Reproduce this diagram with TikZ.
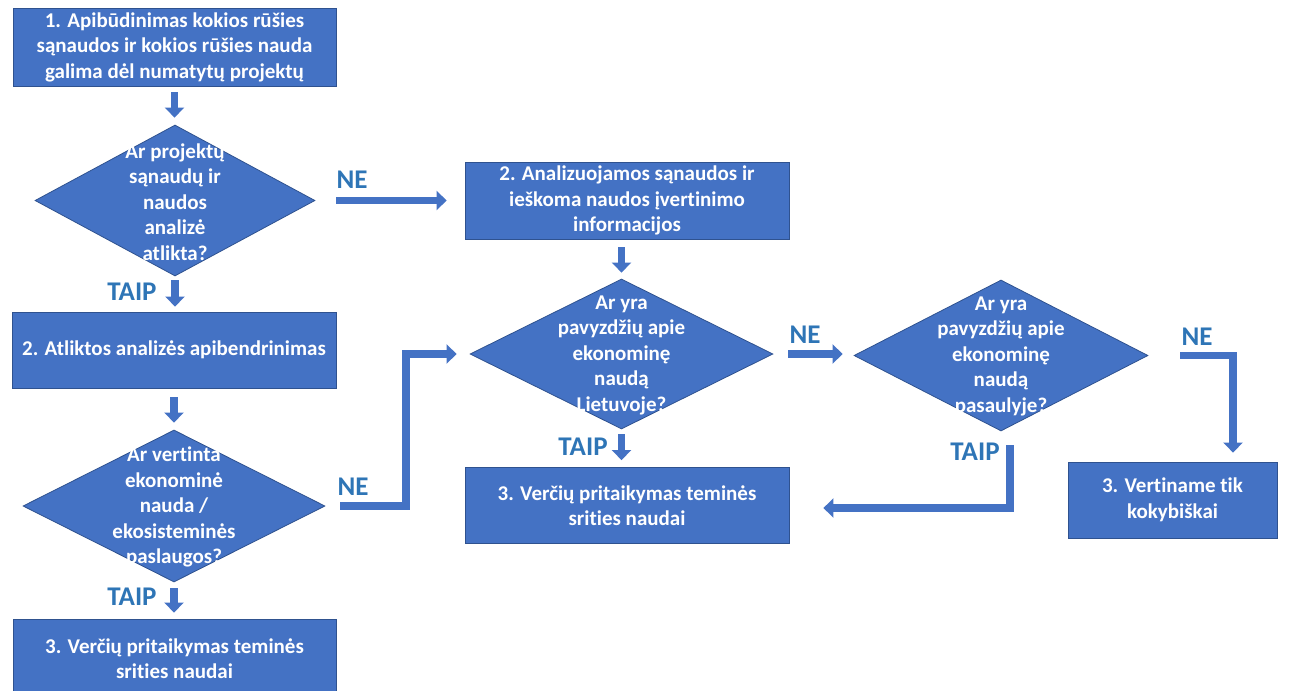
\documentclass[tikz,border=0pt]{standalone}
\usepackage{fontspec}
\setmainfont{Carlito}[Ligatures=NoCommon]
\usetikzlibrary{shapes.geometric,arrows.meta}
\definecolor{boxblue}{HTML}{4472C4}
\definecolor{edgeblue}{HTML}{2F528F}
\definecolor{labelblue}{HTML}{2E75B6}
\tikzset{
  procbox/.style={rectangle,fill=boxblue,draw=edgeblue,line width=0.8pt,inner sep=0pt},
  decision/.style={diamond,fill=boxblue,draw=edgeblue,line width=0.8pt,inner sep=0pt},
  boxtext/.style={text=white,align=center,font=\fontsize{21}{25.5}\selectfont\bfseries},
  answer/.style={text=labelblue,font=\fontsize{27}{30}\selectfont\bfseries},
  blockarrow/.style={draw=boxblue,line width=7.5pt,line join=miter,
    -{Triangle[width=19pt,length=10pt]}}
}
\begin{document}
\begin{tikzpicture}[x=1pt,y=-1pt]
            \useasboundingbox (0,0) rectangle (1297,690);

            \node[procbox,minimum width=323pt,minimum height=78pt] (apib) at (174.5,47){};
            \node[boxtext] (apibt) at (apib){1. Apibūdinimas kokios rūšies\\sąnaudos ir kokios rūšies nauda\\galima dėl numatytų projektų};
            \node[decision,minimum width=280pt,minimum height=151pt] (qdone) at (175,200.5){};
            \node[boxtext] (qdonet) at (175,202){Ar projektų\\sąnaudų ir\\naudos\\analizė\\atlikta?};
            \node[procbox,minimum width=324pt,minimum height=76pt] (summ) at (174,350){};
            \node[boxtext] (summt) at (summ){2. Atliktos analizės apibendrinimas};
            \node[decision,minimum width=302pt,minimum height=152pt] (qvert) at (174,506){};
            \node[boxtext] (qvertt) at (174,507){Ar vertinta\\ekonominė\\nauda /\\ekosisteminės\\paslaugos?};
            \node[procbox,minimum width=323pt,minimum height=79pt] (adapta) at (174.5,658.5){};
            \node[boxtext] (adaptat) at (adapta){3. Verčių pritaikymas teminės\\srities naudai};

            \node[procbox,minimum width=324pt,minimum height=77pt] (analiz) at (627,200.5){};
            \node[boxtext] (analizt) at (analiz){2. Analizuojamos sąnaudos ir\\ieškoma naudos įvertinimo\\informacijos};
            \node[decision,minimum width=303pt,minimum height=150pt] (qlt) at (621.5,354){};
            \node[boxtext] (qltt) at (621.5,355){Ar yra\\pavyzdžių apie\\ekonominę\\naudą\\Lietuvoje?};
            \node[procbox,minimum width=324pt,minimum height=76pt] (adaptb) at (627,505.5){};
            \node[boxtext] (adaptbt) at (adaptb){3. Verčių pritaikymas teminės\\srities naudai};

            \node[decision,minimum width=294pt,minimum height=151pt] (qworld) at (1001,355.5){};
            \node[boxtext] (qworldt) at (1001,356){Ar yra\\pavyzdžių apie\\ekonominę\\naudą\\pasaulyje?};
            \node[procbox,minimum width=209pt,minimum height=76pt] (qual) at (1172.5,500){};
            \node[boxtext] (qualt) at (qual){3. Vertiname tik\\kokybiškai};

            \node[answer] (ne1) at (352,180){NE};
            \node[answer] (taip1) at (132,292){TAIP};
            \node[answer] (ne4) at (353,487){NE};
            \node[answer] (taip4) at (132,597){TAIP};
            \node[answer] (ne2) at (805,335){NE};
            \node[answer] (taip2) at (583,447){TAIP};
            \node[answer] (ne3) at (1197,337){NE};
            \node[answer] (taip3) at (975,452){TAIP};

            \coordinate (cnr1) at (406,506);
            \coordinate (cnr2) at (1233,355.5);
            \coordinate (cnr3) at (1010,508);

            \draw[blockarrow,shorten <=6pt,shorten >=7pt] (apib.south) -- (apib.south |- qdone.north);
            \draw[blockarrow,shorten <=4pt,shorten >=5pt] (qdone.south) -- (qdone.south |- summ.north);
            \draw[blockarrow,shorten <=9pt,shorten >=7pt] (summ.south) -- (summ.south |- qvert.north);
            \draw[blockarrow,shorten <=6pt,shorten >=6pt] (qvert.south) -- (qvert.south |- adapta.north);
            \draw[blockarrow,shorten <=21pt,shorten >=18pt] (qdone.east) -- (qdone.east -| analiz.west);
            \draw[blockarrow,shorten <=8pt,shorten >=6pt] (qlt.north |- analiz.south) -- (qlt.north);
            \draw[blockarrow,shorten <=5pt,shorten >=7pt] (qlt.south) -- (qlt.south |- adaptb.north);
            \draw[blockarrow,shorten <=15pt,shorten >=11pt] (qlt.east) -- (qlt.east -| qworld.west);
            \draw[blockarrow,shorten <=32pt,shorten >=9pt] (qworld.east) -- (cnr2) -- (cnr2 |- qual.north);
            \draw[blockarrow,shorten <=14pt,shorten >=34pt] (cnr3 |- qworld.south) -- (cnr3) -- (cnr3 -| adaptb.east);
            \draw[blockarrow,shorten <=15pt,shorten >=13pt] (qvert.east) -- (cnr1) -- (cnr1 |- qlt.west) -- (qlt.west);
        \end{tikzpicture}
\end{document}
